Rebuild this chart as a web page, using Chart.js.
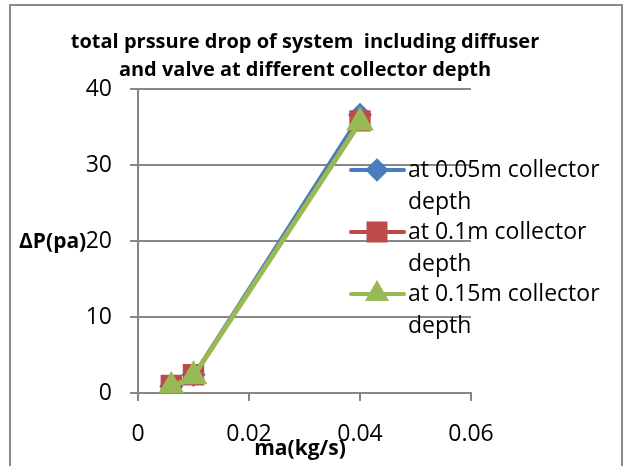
<!DOCTYPE html>
<html>
<head>
<meta charset="utf-8">
<script src="https://cdn.jsdelivr.net/npm/chart.js@4/dist/chart.umd.min.js"></script>
<style>
html, body { margin: 0; padding: 0; background: #fff; }
#wrap { position: relative; width: 624px; height: 466px; }
</style>
</head>
<body>
<div id="wrap"><canvas id="chart"></canvas></div>
<script>
// mass flow rate (kg/s) and pressure drop (pa) for each collector depth
const massFlow = [0.006, 0.01, 0.04];
const depth005 = [0.9, 2.4, 36.6];
const depth010 = [1.0, 2.4, 35.8];
const depth015 = [0.8, 2.2, 35.6];
const seriesLabels = [
    ["at 0.05m collector", "depth"],
    ["at 0.1m collector", "depth"],
    ["at 0.15m collector", "depth"],
];
const chartTitle = ["total prssure drop of system  including diffuser", "and valve at different collector depth"];
const xTitle = "ma(kg/s)";
const yTitle = "ΔP(pa)";

const FONT = "'Open Sans', sans-serif";
const GRID = "#878787";

const toPoints = (ys) => massFlow.map((x, i) => ({ x: x, y: ys[i] }));

// frame round the whole chart
const framePlugin = {
    id: "frame",
    beforeDraw(chart) {
        const c = chart.ctx;
        c.save();
        c.strokeStyle = "#8a8a8a";
        c.lineWidth = 2;
        c.strokeRect(10, 5, 612, 520);
        c.restore();
    },
};

// title, axis titles + overlapping legend like the excel one
const extrasPlugin = {
    id: "extras",
    afterDraw(chart) {
        const c = chart.ctx;
        c.save();
        c.fillStyle = "#000";
        c.textBaseline = "middle";
        c.textAlign = "center";
        c.font = "bold 20px " + FONT;
        chartTitle.forEach((line, i) => c.fillText(line, 305, 42 + i * 28));

        c.font = "bold 21px " + FONT;
        c.fillText(xTitle, 300, 449);
        c.textAlign = "left";
        c.fillText(yTitle, 19, 242);

        chart.data.datasets.forEach((ds, i) => {
            const y = 170 + i * 62;
            c.strokeStyle = ds.borderColor;
            c.lineWidth = 4;
            c.lineCap = "round";
            c.beginPath();
            c.moveTo(351, y);
            c.lineTo(404, y);
            c.stroke();
            c.fillStyle = ds.backgroundColor;
            c.strokeStyle = ds.borderColor;
            Chart.helpers.drawPoint(c, {
                pointStyle: ds.pointStyle,
                radius: ds.pointRadius - 1,
                rotation: 0,
                borderWidth: 1,
            }, 377, y);
            c.fillStyle = "#000";
            c.font = "23px " + FONT;
            c.textAlign = "left";
            seriesLabels[i].forEach((line, j) => {
                c.fillText(line, 408, y + j * 32);
            });
        });
        c.restore();
    },
};

new Chart(document.getElementById("chart"), {
    type: "scatter",
    data: {
        datasets: [
            {
                label: seriesLabels[0].join(" "),
                data: toPoints(depth005),
                borderColor: "#4a7ebb",
                backgroundColor: "#4a7ebb",
                borderWidth: 3,
                pointStyle: "rectRot",
                pointRadius: 10,
                showLine: true,
                order: 3,
            },
            {
                label: seriesLabels[1].join(" "),
                data: toPoints(depth010),
                borderColor: "#be4b48",
                backgroundColor: "#be4b48",
                borderWidth: 3,
                pointStyle: "rect",
                pointRadius: 13,
                showLine: true,
                order: 2,
            },
            {
                label: seriesLabels[2].join(" "),
                data: toPoints(depth015),
                borderColor: "#98b954",
                backgroundColor: "#98b954",
                borderWidth: 5,
                pointStyle: "triangle",
                pointRadius: 11,
                showLine: true,
                order: 1,
            },
        ],
    },
    options: {
        responsive: true,
        maintainAspectRatio: false,
        animation: false,
        layout: {
            padding: { left: 0, top: 89, right: 153, bottom: 0 },
        },
        scales: {
            x: {
                type: "linear",
                min: 0,
                max: 0.06,
                afterFit: (s) => { s.height = 73; },
                ticks: {
                    stepSize: 0.02,
                    padding: 20,
                    color: "#000",
                    font: { family: FONT, size: 23 },
                    callback: (v) => String(+v.toFixed(2)),
                },
                grid: { drawOnChartArea: false, tickLength: 8, color: GRID, lineWidth: 2 },
                border: { color: GRID, width: 2 },
            },
            y: {
                min: 0,
                max: 40,
                afterFit: (s) => { s.width = 138; },
                ticks: {
                    stepSize: 10,
                    padding: 18,
                    color: "#000",
                    font: { family: FONT, size: 23 },
                },
                grid: { tickLength: 8, color: GRID, lineWidth: 2 },
                border: { color: GRID, width: 2 },
            },
        },
        plugins: {
            legend: { display: false },
            tooltip: { enabled: false },
            title: { display: false },
        },
    },
    plugins: [framePlugin, extrasPlugin],
});
</script>
</body>
</html>
